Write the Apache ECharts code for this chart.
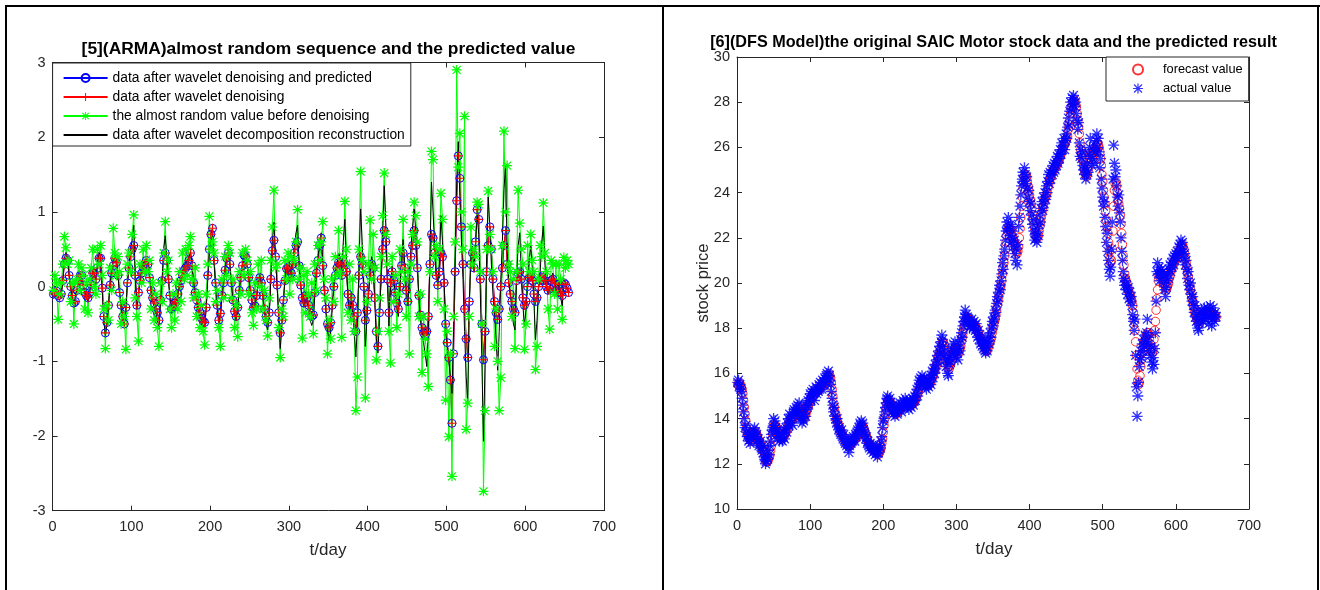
<!DOCTYPE html>
<html>
<head>
<meta charset="utf-8">
<script src="https://cdn.jsdelivr.net/npm/echarts@6/dist/echarts.min.js"></script>
<style>
  html, body { margin: 0; padding: 0; background: #ffffff; }
  #chart { width: 1320px; height: 590px; }
</style>
</head>
<body>
<div id="chart"></div>
<script>
const xTicks = [0, 100, 200, 300, 400, 500, 600, 700];
const armaTicks = [-3, -2, -1, 0, 1, 2, 3];
const priceTicks = [10, 12, 14, 16, 18, 20, 22, 24, 26, 28, 30];

const armaNames = [
  "data after wavelet denoising and predicted",
  "data after wavelet denoising",
  "the almost random value before denoising",
  "data after wavelet decomposition reconstruction"
];
const stockNames = ["forecast value", "actual value"];

// [5] almost random sequence: one reading every 2 days (day 1, 3, ... 655), 20 days per row
const reconstruction = [
  -0.10, -0.06, -0.04, -0.12, -0.17, -0.12, 0.10, 0.38, 0.46, 0.38,
  0.15, -0.02, -0.15, -0.22, -0.15, -0.05, 0.10, 0.18, 0.18, 0.02,
  -0.10, -0.15, -0.20, -0.10, 0.05, 0.22, 0.20, 0.10, 0.30, 0.46,
  0.40, -0.05, -0.45, -0.65, -0.50, -0.25, 0.05, 0.20, 0.30, 0.42,
  0.35, 0.15, -0.10, -0.28, -0.45, -0.52, -0.30, 0.05, 0.30, 0.50,
  0.62, 0.82, 0.10, -0.30, -0.10, 0.10, 0.20, 0.30, 0.36, 0.38,
  0.35, 0.15, -0.05, -0.20, -0.28, -0.35, -0.45, -0.57, -0.20, 0.10,
  0.50, 0.68, 0.40, 0.10, -0.15, -0.35, -0.30, -0.25, -0.22, -0.10,
  0.00, 0.10, 0.20, 0.28, 0.30, 0.35, 0.40, 0.46, 0.30, 0.05,
  -0.10, -0.20, -0.30, -0.40, -0.48, -0.52, -0.55, -0.30, 0.10, 0.45,
  0.60, 0.68, 0.30, 0.00, -0.30, -0.50, -0.40, -0.15, 0.05, 0.25,
  0.40, 0.46, 0.30, 0.05, -0.20, -0.38, -0.45, -0.30, -0.05, 0.15,
  0.30, 0.40, 0.38, 0.30, 0.12, -0.05, -0.20, -0.32, -0.30, -0.15,
  0.05, 0.15, 0.05, -0.15, -0.35, -0.50, -0.58, -0.40, 0.10, 0.60,
  0.86, 0.40, 0.00, -0.40, -0.83, -0.55, -0.20, 0.10, 0.28, 0.30,
  0.15, 0.22, 0.35, 0.55, 0.72, 0.82, 0.30, 0.00, -0.18, -0.27,
  -0.15, -0.15, -0.30, -0.45, -0.52, -0.45, -0.10, 0.20, 0.40, 0.60,
  0.72, 0.30, -0.05, -0.35, -0.60, -0.72, -0.60, -0.30, 0.00, 0.20,
  0.30, 0.45, 0.40, 0.20, 0.60, 0.90, 0.30, -0.15, -0.35, -0.20,
  -0.35, -0.60, -0.94, -0.50, 0.30, 1.04, 0.60, 0.00, -0.80, -0.45,
  -0.10, 0.20, 0.40, 0.30, -0.20, -0.70, -0.89, -0.40, 0.10, 0.70,
  1.35, 0.85, 0.10, -0.53, 0.00, 0.27, 0.10, -0.10, -0.28, -0.40,
  0.00, 0.35, 0.63, 0.30, -0.05, -0.26, 0.15, 0.55, 0.80, 1.04,
  0.75, 0.30, -0.15, -0.45, -0.60, -0.75, -0.90, -1.07, -0.60, 0.40,
  1.40, 1.00, 0.55, 0.20, 0.05, 0.30, 0.95, 0.60, 0.10, -0.62,
  -0.80, -1.00, -1.20, -1.43, -0.60, 0.40, 1.40, 1.94, 1.20, 0.60,
  0.10, -0.60, -1.20, -1.55, -0.20, 0.40, 0.54, 0.20, 0.60, 0.95,
  0.70, -0.10, -1.00, -2.07, -1.00, 0.40, 1.20, 0.80, 0.30, -0.10,
  -0.35, -0.70, -1.12, -0.60, 0.10, 0.60, 1.30, 1.62, 0.50, 0.10,
  -0.10, -0.30, -0.50, -0.58, 0.10, 0.55, 0.72, 0.20, -0.25, -0.53,
  -0.30, 0.05, 0.35, 0.54, 0.25, -0.20, -0.71, -0.45, 0.00, 0.20,
  0.60, 0.81, 0.30, 0.00, -0.10, -0.05, 0.10, 0.18, 0.10, -0.05,
  -0.10, 0.05, -0.15, -0.26, 0.09, 0.05, -0.02, -0.04
];

const denoised = [
  -0.10, -0.08, -0.06, -0.12, -0.15, -0.10, 0.08, 0.30, 0.38, 0.35,
  0.15, 0.00, -0.12, -0.22, -0.20, -0.05, 0.08, 0.15, 0.15, 0.02,
  -0.08, -0.12, -0.15, -0.08, 0.03, 0.18, 0.18, 0.10, 0.25, 0.38,
  0.38, -0.02, -0.40, -0.62, -0.48, -0.25, 0.02, 0.18, 0.28, 0.38,
  0.32, 0.15, -0.08, -0.25, -0.40, -0.50, -0.28, 0.05, 0.25, 0.40,
  0.50, 0.55, 0.15, -0.25, -0.08, 0.08, 0.18, 0.25, 0.30, 0.35,
  0.30, 0.12, -0.05, -0.15, -0.22, -0.30, -0.35, -0.45, -0.18, 0.08,
  0.35, 0.45, 0.35, 0.10, -0.12, -0.30, -0.27, -0.22, -0.20, -0.10,
  0.00, 0.08, 0.15, 0.22, 0.25, 0.28, 0.35, 0.45, 0.28, 0.05,
  -0.08, -0.18, -0.28, -0.35, -0.42, -0.46, -0.48, -0.28, 0.15, 0.50,
  0.70, 0.78, 0.35, 0.05, -0.25, -0.45, -0.36, -0.12, 0.05, 0.22,
  0.38, 0.45, 0.30, 0.05, -0.18, -0.33, -0.40, -0.28, -0.05, 0.12,
  0.28, 0.42, 0.40, 0.30, 0.12, -0.05, -0.18, -0.28, -0.26, -0.12,
  0.05, 0.12, 0.05, -0.12, -0.30, -0.40, -0.48, -0.35, 0.10, 0.48,
  0.62, 0.40, 0.02, -0.35, -0.62, -0.45, -0.18, 0.08, 0.24, 0.26,
  0.12, 0.18, 0.30, 0.45, 0.55, 0.60, 0.28, 0.02, -0.15, -0.22,
  -0.12, -0.15, -0.25, -0.35, -0.40, -0.38, -0.08, 0.18, 0.35, 0.55,
  0.65, 0.28, -0.05, -0.30, -0.50, -0.55, -0.48, -0.25, 0.00, 0.15,
  0.25, 0.32, 0.30, 0.15, 0.25, 0.30, 0.20, -0.10, -0.25, -0.15,
  -0.25, -0.40, -0.60, -0.35, 0.15, 0.40, 0.30, 0.00, -0.45, -0.32,
  -0.10, 0.15, 0.30, 0.25, -0.15, -0.60, -0.80, -0.35, 0.10, 0.50,
  0.75, 0.60, 0.10, -0.35, 0.05, 0.20, 0.08, -0.08, -0.22, -0.30,
  0.00, 0.28, 0.45, 0.25, -0.05, -0.20, 0.10, 0.40, 0.55, 0.75,
  0.55, 0.25, -0.12, -0.38, -0.55, -0.62, -0.65, -0.60, -0.40, 0.30,
  0.70, 0.65, 0.45, 0.15, 0.02, 0.20, 0.45, 0.40, 0.05, -0.50,
  -0.75, -0.95, -1.25, -1.83, -0.90, 0.20, 1.15, 1.75, 1.45, 0.80,
  0.30, -0.30, -0.70, -0.95, -0.20, 0.30, 0.45, 0.25, 0.60, 1.03,
  0.90, 0.10, -0.50, -0.98, -0.60, 0.20, 0.55, 0.80, 0.50, 0.10,
  -0.20, -0.35, -0.44, -0.30, 0.00, 0.25, 0.55, 0.75, 0.30, 0.05,
  -0.10, -0.20, -0.30, -0.35, 0.08, 0.18, 0.20, 0.10, -0.15, -0.25,
  -0.20, 0.00, 0.12, 0.15, 0.08, -0.10, -0.20, -0.15, 0.00, 0.08,
  0.12, 0.15, 0.08, 0.00, -0.05, -0.02, 0.08, 0.10, 0.05, -0.05,
  -0.08, 0.03, -0.08, -0.12, 0.05, 0.03, -0.02, -0.08
];

// the predicted circles sit on the denoised crosses everywhere in the picture
const predicted = denoised;

const rawValue = [
  -0.05, 0.15, 0.05, -0.44, -0.10, 0.05, 0.30, 0.67, 0.52, 0.30,
  0.35, -0.20, 0.05, -0.50, 0.05, 0.10, 0.30, -0.05, 0.25, 0.15,
  -0.30, 0.05, -0.35, 0.10, 0.25, 0.50, 0.00, -0.10, 0.50, 0.30,
  0.55, 0.15, -0.30, -0.83, -0.25, -0.45, 0.25, -0.05, 0.78, 0.45,
  0.15, 0.40, 0.20, -0.50, -0.20, -0.40, -0.84, 0.30, 0.45, 0.20,
  0.70, 0.96, -0.15, -0.40, -0.73, 0.30, 0.05, 0.50, 0.20, 0.55,
  0.20, 0.35, -0.30, 0.05, -0.45, -0.10, -0.55, -0.80, 0.05, -0.20,
  0.45, 0.87, 0.20, 0.35, -0.30, -0.55, -0.10, -0.45, 0.05, -0.30,
  0.20, -0.20, 0.45, 0.10, 0.50, 0.15, 0.55, 0.67, 0.10, -0.15,
  0.25, -0.40, -0.10, -0.55, -0.25, -0.60, -0.78, -0.10, 0.30, 0.94,
  0.50, 0.60, 0.45, -0.20, -0.05, -0.55, -0.80, 0.10, -0.15, 0.40,
  0.15, 0.55, 0.45, -0.15, 0.10, -0.55, -0.25, -0.67, 0.20, -0.10,
  0.45, 0.15, 0.50, 0.35, -0.10, 0.20, -0.35, -0.52, 0.05, -0.30,
  0.30, 0.00, 0.35, -0.30, -0.05, -0.45, -0.66, -0.15, 0.35, 0.80,
  1.29, 0.25, 0.30, -0.55, -0.95, -0.30, -0.40, 0.35, 0.10, 0.45,
  -0.10, 0.40, 0.10, 0.35, 0.60, 1.03, 0.10, 0.25, -0.69, 0.15,
  -0.35, 0.20, -0.10, -0.40, 0.05, -0.63, 0.30, -0.05, 0.55, 0.35,
  0.60, 0.87, 0.10, -0.15, -0.90, -0.45, -0.70, 0.10, -0.20, 0.40,
  0.15, 0.75, 0.20, -0.68, 0.40, 1.14, 0.50, -0.35, 0.30, -0.45,
  0.10, -0.60, -1.66, -1.21, 0.50, 1.54, 0.35, 0.20, -1.49, -0.20,
  0.30, 0.89, 0.10, 0.70, 0.25, -0.98, -0.60, -0.15, 0.40, 0.95,
  1.52, 0.70, 0.30, -0.60, -1.02, 0.40, -0.20, 0.15, -0.55, -0.10,
  0.50, 0.20, 0.90, 0.10, -0.40, 0.20, -0.90, 0.30, 0.70, 1.13,
  0.95, 0.60, -0.40, -0.10, -1.15, -0.40, -0.70, -0.90, -1.34, 0.20,
  1.81, 1.70, 0.40, 0.55, -0.20, 0.50, 1.25, 0.90, -0.30, -1.52,
  -0.60, -2.01, -0.90, -2.54, -0.40, 0.60, 2.90, 1.60, 2.05, 1.00,
  0.50, 2.28, -1.91, -1.56, -0.40, 0.80, 0.30, 0.50, 0.40, 1.13,
  1.10, 0.20, -0.50, -2.74, -1.66, 0.50, 1.28, 0.70, 0.50, 0.20,
  -0.80, -0.30, -1.00, -1.66, -1.22, 0.55, 2.08, 1.00, 1.62, 0.30,
  0.20, -0.40, 0.10, -0.83, 0.20, 1.29, 0.85, 0.50, 0.30, -0.84,
  -0.50, 0.55, 0.20, 0.70, 0.35, 0.20, -1.11, -0.80, 0.10, 0.55,
  0.40, 1.12, 0.45, 0.20, -0.30, -0.57, 0.35, 0.30, -0.10, 0.30,
  -0.30, 0.30, 0.10, -0.44, 0.39, 0.25, 0.35, 0.30
];

// [6] SAIC Motor stock price: one reading per day (day 1 .. 655), 10 days per row
const actualPrice = [
  15.6, 15.7, 15.4, 15.5, 15.3, 15.2, 14.9, 14.6, 14.3, 14.0,
  13.6, 13.7, 13.4, 13.2, 13.3, 13.0, 13.2, 12.9, 13.1, 13.3,
  13.2, 13.5, 13.3, 13.6, 13.4, 13.2, 13.3, 13.0, 13.1, 12.8,
  12.9, 13.0, 12.7, 12.6, 12.8, 12.5, 12.3, 12.2, 12.0, 12.1,
  12.3, 12.2, 12.6, 12.4, 12.8, 13.0, 13.3, 13.5, 13.6, 14.0,
  13.7, 13.9, 13.6, 13.4, 13.5, 13.2, 13.3, 13.0, 13.2, 13.1,
  13.3, 13.0, 13.2, 13.4, 13.1, 13.5, 13.6, 13.4, 13.8, 14.0,
  13.7, 14.2, 14.0, 13.8, 14.1, 13.7, 14.3, 14.4, 14.1, 14.3,
  14.5, 14.2, 14.6, 14.4, 14.7, 14.3, 14.0, 14.2, 13.8, 14.0,
  13.9, 14.2, 14.4, 14.1, 14.6, 14.5, 14.8, 14.6, 14.9, 15.1,
  14.8, 15.2, 15.0, 15.3, 15.1, 14.8, 15.2, 15.4, 15.1, 15.3,
  15.2, 15.5, 15.3, 15.6, 15.4, 15.3, 15.7, 15.5, 15.6, 15.8,
  15.6, 15.9, 16.0, 15.8, 16.1, 15.9, 15.7, 15.5, 15.2, 14.9,
  14.6, 14.3, 14.5, 14.1, 14.0, 13.8, 14.0, 13.7, 13.5, 13.6,
  13.4, 13.3, 13.5, 13.2, 13.1, 13.3, 13.0, 12.9, 13.1, 12.8,
  12.9, 12.7, 12.5, 12.8, 13.0, 12.9, 13.1, 13.0, 13.2, 13.1,
  13.0, 13.3, 13.2, 13.4, 13.5, 13.3, 13.6, 13.8, 13.7, 13.9,
  13.6, 13.8, 13.5, 13.4, 13.3, 13.1, 13.2, 12.9, 13.0, 12.8,
  12.7, 12.9, 12.6, 12.8, 12.7, 12.5, 12.8, 12.6, 12.4, 12.7,
  12.5, 12.3, 12.5, 12.6, 12.8, 12.7, 13.0, 13.2, 13.6, 13.9,
  14.0, 14.3, 14.5, 14.7, 14.9, 15.0, 14.8, 14.6, 14.9, 14.7,
  14.5, 14.3, 14.6, 14.2, 14.4, 14.1, 14.3, 14.5, 14.2, 14.4,
  14.6, 14.4, 14.7, 14.5, 14.3, 14.6, 14.8, 14.5, 14.7, 14.9,
  14.6, 14.8, 14.5, 14.7, 14.4, 14.6, 14.8, 14.5, 14.7, 14.9,
  14.6, 14.8, 15.0, 14.8, 15.1, 15.3, 15.0, 15.4, 15.7, 15.5,
  15.8, 15.6, 15.9, 15.7, 15.5, 15.8, 15.4, 15.6, 15.3, 15.5,
  15.7, 15.4, 15.6, 15.8, 15.5, 15.9, 16.1, 15.8, 16.2, 16.0,
  16.4, 16.2, 16.6, 16.8, 16.5, 17.0, 17.2, 16.9, 17.4, 17.7,
  17.5, 17.2, 16.8, 17.0, 16.6, 16.3, 16.6, 16.0, 15.9, 16.4,
  16.7, 16.5, 16.9, 17.1, 16.8, 17.3, 17.0, 17.4, 17.1, 16.7,
  16.9, 16.6, 17.1, 17.3, 17.0, 17.5, 17.8, 17.6, 18.1, 18.3,
  18.5, 18.8, 18.6, 18.3, 18.5, 18.2, 18.4, 18.0, 18.3, 18.1,
  18.4, 18.2, 18.0, 18.3, 18.1, 17.9, 18.2, 17.8, 17.6, 17.9,
  17.5, 17.7, 17.3, 17.5, 17.2, 17.4, 17.1, 17.3, 17.0, 16.9,
  17.2, 17.0, 17.4, 17.6, 17.3, 17.8, 17.6, 18.0, 18.3, 18.1,
  18.5, 18.4, 18.8, 18.7, 19.1, 19.4, 19.2, 19.6, 19.9, 19.7,
  20.1, 20.4, 20.9, 20.6, 21.2, 21.5, 21.9, 22.3, 22.7, 22.4,
  22.9, 22.5, 22.1, 22.6, 21.8, 22.3, 22.0, 21.6, 21.9, 21.3,
  21.0, 21.5, 20.8, 21.7, 22.5, 22.9, 23.4, 23.9, 24.3, 24.6,
  24.9, 24.5, 25.1, 24.8, 24.4, 24.7, 24.2, 23.8, 24.1, 23.6,
  23.2, 23.5, 23.0, 22.6, 22.8, 22.3, 21.9, 22.2, 22.0, 21.8,
  22.4, 22.1, 22.6, 23.0, 22.7, 23.3, 23.6, 23.2, 23.8, 23.5,
  24.0, 23.7, 24.3, 24.0, 24.5, 24.8, 24.4, 24.9, 24.6, 25.0,
  24.8, 25.2, 24.9, 25.3, 25.0, 25.4, 25.2, 25.6, 25.3, 25.7,
  25.5, 25.9, 25.7, 26.2, 25.9, 26.1, 26.4, 25.9, 26.3, 26.6,
  26.4, 26.9, 27.3, 27.0, 27.6, 28.0, 27.7, 28.2, 27.9, 28.3,
  28.1, 27.8, 28.0, 27.5, 27.2, 26.8, 27.1, 26.2, 25.6, 25.9,
  25.5, 25.8, 25.2, 25.0, 24.8, 25.1, 24.6, 24.8, 25.3, 24.9,
  25.7, 26.0, 26.4, 25.6, 25.2, 25.5, 25.9, 25.3, 26.1, 25.8,
  26.3, 26.6, 26.0, 26.4, 25.8, 25.1, 25.5, 24.6, 24.2, 23.8,
  23.4, 23.6, 22.9, 22.5, 21.8, 22.2, 21.4, 21.0, 20.6, 20.3,
  20.7, 21.5, 22.7, 24.6, 26.1, 25.3, 24.7, 25.0, 24.3, 23.8,
  23.4, 23.9, 23.1, 22.7, 22.0, 21.4, 21.0, 20.5, 20.2, 19.9,
  20.1, 19.7, 19.9, 19.5, 19.8, 19.3, 19.6, 19.2, 19.4, 19.0,
  18.6, 18.3, 17.9, 18.4, 16.8, 15.4, 14.1, 15.0, 15.6, 16.3,
  16.6, 17.0, 16.7, 17.3, 17.0, 17.5, 17.2, 17.7, 17.4, 17.8,
  18.4, 17.3, 17.6, 17.0, 16.8, 17.2, 16.5, 16.2, 16.7, 16.4,
  17.1, 17.8, 19.2, 20.5, 20.9, 20.4, 20.7, 20.1, 20.4, 20.6,
  20.2, 20.5, 20.0, 20.3, 19.7, 19.4, 19.8, 20.1, 20.4, 20.2,
  20.6, 20.8, 20.5, 20.9, 20.7, 21.1, 20.8, 21.2, 21.0, 21.3,
  21.1, 21.4, 21.2, 21.6, 21.3, 21.7, 21.9, 21.5, 21.8, 21.4,
  21.1, 21.3, 20.8, 21.0, 20.6, 20.2, 20.5, 19.9, 19.7, 20.0,
  19.5, 19.2, 19.4, 19.0, 18.7, 19.0, 18.5, 18.3, 18.6, 18.0,
  17.9, 18.2, 18.7, 18.4, 18.8, 18.5, 18.3, 18.7, 18.9, 18.6,
  18.4, 18.7, 18.9, 18.5, 18.2, 18.8, 19.0, 18.6, 18.1, 18.4,
  18.9, 18.6, 18.3, 18.7, 18.5
];

const forecastPrice = [
  15.5, 15.5, 15.6, 15.5, 15.5, 15.4, 15.3, 15.1, 14.8, 14.5,
  14.2, 13.9, 13.6, 13.4, 13.3, 13.2, 13.1, 13.1, 13.0, 13.0,
  13.1, 13.2, 13.3, 13.3, 13.4, 13.4, 13.3, 13.2, 13.1, 13.0,
  12.9, 12.9, 12.8, 12.7, 12.6, 12.6, 12.5, 12.4, 12.2, 12.1,
  12.1, 12.1, 12.2, 12.3, 12.4, 12.6, 12.8, 13.1, 13.3, 13.5,
  13.7, 13.7, 13.7, 13.6, 13.5, 13.4, 13.3, 13.2, 13.2, 13.1,
  13.1, 13.1, 13.2, 13.2, 13.3, 13.3, 13.4, 13.5, 13.5, 13.7,
  13.8, 13.9, 14.0, 14.0, 14.0, 14.0, 14.0, 14.1, 14.2, 14.2,
  14.3, 14.4, 14.4, 14.5, 14.5, 14.5, 14.4, 14.3, 14.2, 14.1,
  14.0, 14.0, 14.1, 14.2, 14.3, 14.4, 14.5, 14.6, 14.7, 14.8,
  14.9, 15.0, 15.0, 15.1, 15.1, 15.1, 15.1, 15.2, 15.2, 15.2,
  15.3, 15.3, 15.3, 15.4, 15.4, 15.5, 15.5, 15.5, 15.6, 15.6,
  15.7, 15.7, 15.8, 15.9, 15.9, 16.0, 15.9, 15.8, 15.6, 15.3,
  15.0, 14.7, 14.5, 14.3, 14.2, 14.0, 13.9, 13.8, 13.7, 13.6,
  13.5, 13.4, 13.4, 13.3, 13.2, 13.2, 13.1, 13.0, 13.0, 12.9,
  12.9, 12.8, 12.8, 12.8, 12.8, 12.9, 12.9, 13.0, 13.0, 13.1,
  13.1, 13.1, 13.2, 13.2, 13.3, 13.4, 13.4, 13.5, 13.6, 13.7,
  13.7, 13.7, 13.6, 13.5, 13.4, 13.3, 13.2, 13.1, 13.0, 12.9,
  12.9, 12.8, 12.8, 12.7, 12.7, 12.7, 12.6, 12.6, 12.6, 12.5,
  12.5, 12.5, 12.4, 12.5, 12.5, 12.6, 12.7, 12.9, 13.1, 13.4,
  13.7, 14.0, 14.2, 14.4, 14.6, 14.8, 14.8, 14.8, 14.7, 14.7,
  14.6, 14.5, 14.4, 14.4, 14.3, 14.3, 14.2, 14.2, 14.3, 14.3,
  14.4, 14.4, 14.5, 14.5, 14.5, 14.5, 14.5, 14.6, 14.6, 14.6,
  14.7, 14.7, 14.7, 14.6, 14.6, 14.6, 14.6, 14.6, 14.6, 14.7,
  14.7, 14.7, 14.8, 14.8, 14.9, 15.0, 15.1, 15.2, 15.3, 15.4,
  15.5, 15.6, 15.7, 15.7, 15.7, 15.7, 15.6, 15.6, 15.5, 15.5,
  15.5, 15.5, 15.5, 15.6, 15.6, 15.7, 15.8, 15.9, 16.0, 16.1,
  16.2, 16.3, 16.4, 16.5, 16.7, 16.8, 16.9, 17.0, 17.1, 17.3,
  17.4, 17.4, 17.3, 17.1, 17.0, 16.8, 16.6, 16.4, 16.3, 16.2,
  16.3, 16.4, 16.5, 16.7, 16.8, 16.9, 17.0, 17.1, 17.1, 17.1,
  17.0, 16.9, 16.9, 17.0, 17.1, 17.2, 17.4, 17.6, 17.8, 18.0,
  18.1, 18.3, 18.4, 18.5, 18.5, 18.4, 18.4, 18.3, 18.2, 18.2,
  18.2, 18.2, 18.2, 18.1, 18.1, 18.1, 18.0, 18.0, 17.9, 17.8,
  17.7, 17.6, 17.6, 17.5, 17.4, 17.3, 17.3, 17.2, 17.1, 17.1,
  17.0, 17.0, 17.1, 17.2, 17.3, 17.4, 17.5, 17.6, 17.8, 18.0,
  18.1, 18.3, 18.4, 18.6, 18.8, 19.0, 19.2, 19.4, 19.6, 19.8,
  19.9, 20.1, 20.4, 20.7, 20.9, 21.2, 21.5, 21.8, 22.1, 22.3,
  22.4, 22.5, 22.4, 22.3, 22.2, 22.1, 22.0, 21.9, 21.8, 21.7,
  21.5, 21.4, 21.3, 21.4, 21.6, 22.0, 22.4, 22.9, 23.4, 23.8,
  24.2, 24.5, 24.7, 24.8, 24.8, 24.7, 24.5, 24.3, 24.1, 23.9,
  23.7, 23.5, 23.3, 23.0, 22.8, 22.6, 22.4, 22.2, 22.1, 22.0,
  22.0, 22.1, 22.3, 22.5, 22.7, 22.9, 23.1, 23.3, 23.4, 23.6,
  23.7, 23.8, 23.9, 24.0, 24.2, 24.3, 24.5, 24.6, 24.7, 24.8,
  24.9, 25.0, 25.0, 25.1, 25.1, 25.2, 25.2, 25.3, 25.4, 25.4,
  25.5, 25.6, 25.7, 25.8, 25.9, 26.0, 26.1, 26.1, 26.2, 26.3,
  26.4, 26.5, 26.8, 27.0, 27.2, 27.5, 27.7, 27.8, 28.0, 28.0,
  28.1, 28.0, 27.9, 27.8, 27.5, 27.2, 26.9, 26.6, 26.2, 25.9,
  25.7, 25.5, 25.4, 25.2, 25.0, 24.9, 24.8, 24.7, 24.8, 25.0,
  25.2, 25.5, 25.7, 25.8, 25.7, 25.6, 25.6, 25.7, 25.8, 25.9,
  26.0, 26.1, 26.2, 26.1, 26.0, 25.8, 25.5, 25.2, 24.8, 24.5,
  24.1, 23.8, 23.5, 23.2, 22.8, 22.5, 22.2, 21.8, 21.4, 21.1,
  20.9, 21.0, 21.5, 22.3, 23.4, 24.1, 24.4, 24.5, 24.3, 24.0,
  23.7, 23.5, 23.3, 23.0, 22.6, 22.2, 21.7, 21.2, 20.8, 20.4,
  20.2, 20.1, 20.0, 19.8, 19.7, 19.6, 19.5, 19.4, 19.3, 19.2,
  19.0, 18.7, 18.3, 17.9, 17.4, 16.8, 16.2, 15.7, 15.5, 15.6,
  15.9, 16.3, 16.6, 16.9, 17.1, 17.3, 17.4, 17.5, 17.6, 17.7,
  17.8, 17.8, 17.7, 17.5, 17.3, 17.1, 17.0, 16.9, 17.1, 17.5,
  17.9, 18.3, 18.8, 19.3, 19.7, 20.1, 20.3, 20.4, 20.4, 20.4,
  20.4, 20.3, 20.2, 20.1, 20.0, 19.8, 19.7, 19.8, 19.9, 20.0,
  20.2, 20.3, 20.5, 20.6, 20.7, 20.8, 20.9, 21.0, 21.0, 21.1,
  21.2, 21.2, 21.3, 21.4, 21.4, 21.5, 21.6, 21.7, 21.7, 21.6,
  21.5, 21.3, 21.1, 20.9, 20.7, 20.5, 20.3, 20.1, 19.9, 19.7,
  19.5, 19.3, 19.2, 19.0, 18.9, 18.7, 18.6, 18.5, 18.4, 18.3,
  18.3, 18.2, 18.3, 18.4, 18.5, 18.6, 18.6, 18.6, 18.7, 18.7,
  18.7, 18.6, 18.6, 18.7, 18.7, 18.6, 18.6, 18.7, 18.6, 18.5,
  18.5, 18.5, 18.6, 18.5, 18.5
];

// day numbers that go with the readings above
const armaDays = rawValue.map((v, i) => 1 + 2 * i);
const stockDays = actualPrice.map((v, i) => 1 + i);

const pairs = (days, vals) => vals.map((v, i) => [days[i], v]);

// MATLAB-like marker shapes
const STAR = "path://M0 8.8L20 8.8L20 11.2L0 11.2Z M8.8 0L11.2 0L11.2 20L8.8 20Z M1.2 2.9L2.9 1.2L18.8 17.1L17.1 18.8Z M17.1 1.2L18.8 2.9L2.9 18.8L1.2 17.1Z";
const PLUS = "path://M0 8.8L20 8.8L20 11.2L0 11.2Z M8.8 0L11.2 0L11.2 20L8.8 20Z";
const DASH = "path://M0 9.5L20 9.5L20 10.5L0 10.5Z";

const FONT = "Liberation Sans, Arial, sans-serif";
const AXIS_COLOR = "#262626";

function boxAxes(gridIndex, ticks, isX) {
  const common = {
    type: "value",
    gridIndex: gridIndex,
    min: ticks[0],
    max: ticks[ticks.length - 1],
    interval: ticks[1] - ticks[0],
    splitLine: { show: false },
    axisLine: { show: true, onZero: false, lineStyle: { color: AXIS_COLOR, width: 1 } },
    axisTick: { show: true, inside: true, length: 5, lineStyle: { color: AXIS_COLOR } }
  };
  const main = Object.assign({}, common, {
    position: isX ? "bottom" : "left",
    axisLabel: {
      show: true,
      color: AXIS_COLOR,
      fontFamily: FONT,
      fontSize: 14.5,
      margin: isX ? 9 : 7
    }
  });
  const opposite = Object.assign({}, common, {
    position: isX ? "top" : "right",
    axisLabel: { show: false }
  });
  return [main, opposite];
}

const chart = echarts.init(document.getElementById("chart"), null, { renderer: "canvas" });

const option = {
  animation: false,
  backgroundColor: "#ffffff",
  grid: [
    { left: 52.6, top: 62.5, width: 551.4, height: 448.2 },
    { left: 737, top: 57, width: 512, height: 452 }
  ],
  xAxis: [...boxAxes(0, xTicks, true), ...boxAxes(1, xTicks, true)],
  yAxis: [...boxAxes(0, armaTicks, false), ...boxAxes(1, priceTicks, false)],
  legend: [
    {
      data: [armaNames[0], armaNames[1], armaNames[2], { name: armaNames[3], icon: DASH }],
      orient: "vertical",
      left: 52.6,
      top: 63,
      padding: [8, 6, 4, 10],
      itemGap: 5,
      itemWidth: 44,
      itemHeight: 10,
      borderColor: AXIS_COLOR,
      borderWidth: 1,
      backgroundColor: "#ffffff",
      textStyle: { fontFamily: FONT, fontSize: 13.8, color: "#000000" }
    },
    {
      data: stockNames,
      orient: "vertical",
      left: 1106,
      top: 57,
      padding: [6, 6, 6, 26],
      itemGap: 6,
      itemWidth: 40,
      itemHeight: 10,
      borderColor: AXIS_COLOR,
      borderWidth: 1,
      backgroundColor: "#ffffff",
      textStyle: { fontFamily: FONT, fontSize: 12.8, color: "#000000" }
    }
  ],
  series: [
    {
      name: armaNames[0],
      type: "line",
      xAxisIndex: 0, yAxisIndex: 0,
      data: pairs(armaDays, predicted),
      symbol: "circle",
      symbolSize: 8,
      showAllSymbol: true,
      itemStyle: { color: "rgba(0,0,0,0)", borderColor: "#0000ff", borderWidth: 1 },
      lineStyle: { color: "#0000ff", width: 1 }
    },
    {
      name: armaNames[1],
      type: "line",
      xAxisIndex: 0, yAxisIndex: 0,
      data: pairs(armaDays, denoised),
      symbol: PLUS,
      symbolSize: 9,
      showAllSymbol: true,
      itemStyle: { color: "#ff0000" },
      lineStyle: { color: "#ff0000", width: 1 }
    },
    {
      name: armaNames[2],
      type: "line",
      xAxisIndex: 0, yAxisIndex: 0,
      data: pairs(armaDays, rawValue),
      symbol: STAR,
      symbolSize: 10,
      showAllSymbol: true,
      itemStyle: { color: "#00ff00" },
      lineStyle: { color: "#00ff00", width: 1 }
    },
    {
      name: armaNames[3],
      type: "line",
      xAxisIndex: 0, yAxisIndex: 0,
      data: pairs(armaDays, reconstruction),
      symbol: "none",
      itemStyle: { color: "#000000" },
      lineStyle: { color: "#000000", width: 1 }
    },
    {
      name: stockNames[0],
      type: "scatter",
      xAxisIndex: 2, yAxisIndex: 2,
      data: pairs(stockDays, forecastPrice),
      symbol: "circle",
      symbolSize: 8.5,
      itemStyle: { color: "rgba(0,0,0,0)", borderColor: "#ff0000", borderWidth: 1 }
    },
    {
      name: stockNames[1],
      type: "scatter",
      xAxisIndex: 2, yAxisIndex: 2,
      data: pairs(stockDays, actualPrice),
      symbol: STAR,
      symbolSize: 11,
      itemStyle: { color: "#0000ff" }
    }
  ],
  graphic: [
    {
      type: "text", x: 328.5, y: 49,
      style: {
        text: "[5](ARMA)almost random sequence and the predicted value",
        fontFamily: FONT, fontSize: 17.4, fontWeight: "bold", fill: "#000000",
        textAlign: "center", textVerticalAlign: "middle"
      }
    },
    {
      type: "text", x: 993.5, y: 43,
      style: {
        text: "[6](DFS Model)the original SAIC Motor stock data and the predicted result",
        fontFamily: FONT, fontSize: 16.2, fontWeight: "bold", fill: "#000000",
        textAlign: "center", textVerticalAlign: "middle"
      }
    },
    {
      type: "text", x: 328, y: 550,
      style: {
        text: "t/day", fontFamily: FONT, fontSize: 17, fill: AXIS_COLOR,
        textAlign: "center", textVerticalAlign: "middle"
      }
    },
    {
      type: "text", x: 994, y: 549,
      style: {
        text: "t/day", fontFamily: FONT, fontSize: 17, fill: AXIS_COLOR,
        textAlign: "center", textVerticalAlign: "middle"
      }
    },
    {
      type: "text", x: 703, y: 283, rotation: Math.PI / 2,
      style: {
        text: "stock price", fontFamily: FONT, fontSize: 16.5, fill: AXIS_COLOR,
        textAlign: "center", textVerticalAlign: "middle"
      }
    },
    // figure frame
    { type: "line", shape: { x1: 5, y1: 6, x2: 1320, y2: 6 }, style: { stroke: "#000", lineWidth: 2 } },
    { type: "line", shape: { x1: 6, y1: 5, x2: 6, y2: 590 }, style: { stroke: "#000", lineWidth: 2 } },
    { type: "line", shape: { x1: 663, y1: 5, x2: 663, y2: 590 }, style: { stroke: "#000", lineWidth: 2 } },
    { type: "line", shape: { x1: 1318, y1: 5, x2: 1318, y2: 590 }, style: { stroke: "#000", lineWidth: 2 } }
  ]
};

chart.setOption(option);
</script>
</body>
</html>
